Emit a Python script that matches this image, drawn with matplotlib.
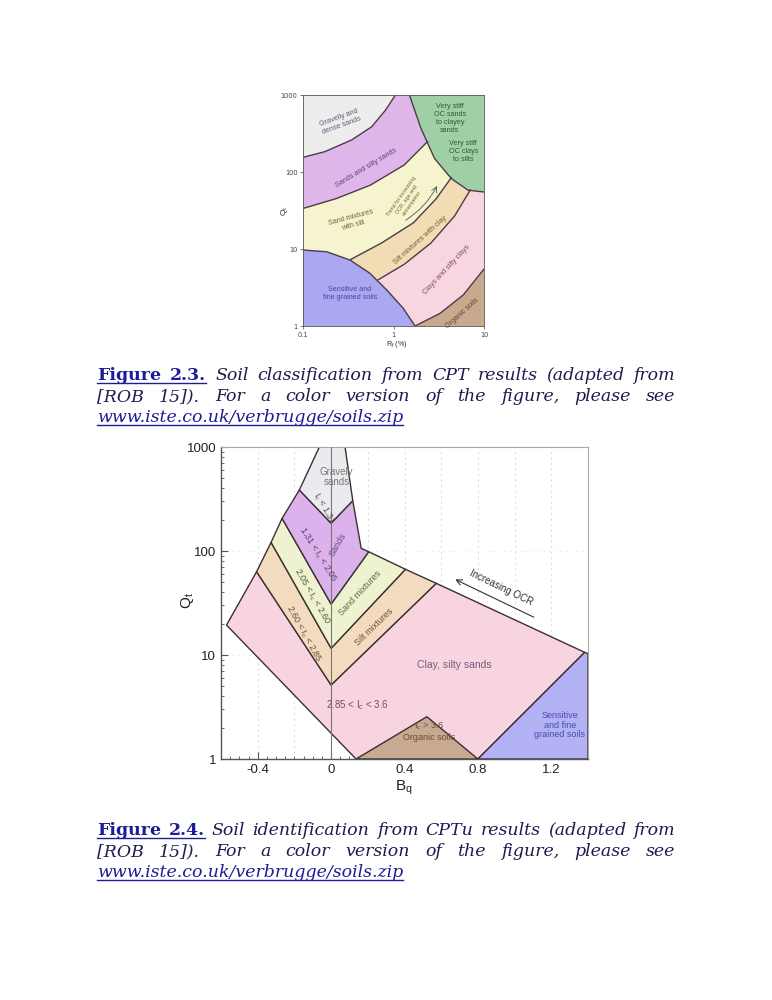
import matplotlib
matplotlib.use('Agg')
import matplotlib.pyplot as plt
from matplotlib.patches import Polygon
from matplotlib.lines import Line2D
from matplotlib.ticker import MultipleLocator, LogLocator, NullFormatter

W, H = 772, 1000

# ---- Figure 2.3 : CPT chart, boundaries read as (Rf %, Qt) ----
a_rf = [0.1, 0.175, 0.345, 0.574, 0.82, 1.05]      # gravelly / sands
a_q = [155, 184, 261, 387, 640, 1000]
b_rf = [0.1, 0.235, 0.556, 1.31, 2.39]             # sands / sand mixtures
b_q = [33.6, 45.3, 67.6, 123, 250]
c_rf = [0.331, 0.741, 1.66, 2.95, 4.37]            # sand mixtures / silt mixtures
c_q = [7.24, 12.0, 21.9, 44.7, 85.1]
d_rf = [0.676, 1.31, 2.60, 4.74, 7.08]             # silt mixtures / clays
d_q = [3.98, 6.31, 12.0, 26.9, 58.9]
g_rf = [1.5, 2.01, 2.84, 4.36, 6.68, 10]           # very stiff OC zone
g_q = [1000, 369, 150, 82, 58, 55]
s_rf = [0.1, 0.183, 0.330, 0.550, 0.841, 1.28, 1.73]  # sensitive zone
s_q = [9.7, 9.2, 7.2, 4.83, 2.94, 1.70, 1.0]
e_rf = [1.73, 3.27, 5.90, 10]                      # clays / organic
e_q = [1.0, 1.46, 2.53, 5.5]

# ---- Figure 2.4 : CPTu chart, zones as (Bq, Qt) polygons ----
grav_bq = [-0.064, 0.076, 0.118, 0.0, -0.173]
grav_q = [1000, 1000, 305, 185, 386]
sand_bq = [-0.173, 0.0, 0.118, 0.164, 0.205, 0.0, -0.267]
sand_q = [386, 185, 305, 106, 98.4, 30.9, 206]
smix_bq = [-0.267, 0.0, 0.205, 0.405, 0.0, -0.327]
smix_q = [206, 30.9, 98.4, 66.7, 11.6, 121]
silt_bq = [-0.327, 0.0, 0.405, 0.573, 0.0, -0.406]
silt_q = [121, 11.6, 66.7, 48.9, 5.15, 63.2]
clay_bq = [-0.406, 0.0, 0.573, 1.382, 0.8, 0.136, -0.570]
clay_q = [63.2, 5.15, 48.9, 10.6, 1.0, 1.0, 19.4]
sens_bq = [0.8, 1.382, 1.4, 1.4]
sens_q = [1.0, 10.6, 10.3, 1.0]
org_bq = [0.136, 0.522, 0.8]
org_q = [1.0, 2.55, 1.0]


def fx(x):
    return x / W


def fy(y):
    return 1 - y / H


fig = plt.figure(figsize=(W / 100, H / 100), dpi=100)
fig.patch.set_facecolor('white')

# ================= top chart =================
ax1 = fig.add_axes([fx(303), fy(326), 181 / W, 231 / H])
ax1.set_xscale('log')
ax1.set_yscale('log')
ax1.set_xlim(0.1, 10)
ax1.set_ylim(1, 1000)
ax1.set_facecolor('#f7d6e0')

ax1.fill(d_rf + [d_rf[-1], 0.1, 0.1], d_q + [1000, 1000, d_q[0]], color='#f1dcb4', lw=0)
ax1.fill(c_rf + [c_rf[-1], 0.1, 0.1], c_q + [1000, 1000, c_q[0]], color='#f5f4cf', lw=0)
ax1.fill(b_rf + [b_rf[-1], 0.1], b_q + [1000, 1000], color='#dfb6ea', lw=0)
ax1.fill(a_rf + [0.1], a_q + [1000], color='#ededee', lw=0)
ax1.fill(g_rf + [10], g_q + [1000], color='#9fd0a5', lw=0)
ax1.fill(s_rf + [0.1], s_q + [1], color='#aaa8f0', lw=0)
ax1.fill(e_rf + [10], e_q + [1], color='#c9a98e', lw=0)

for xs, ys in [(a_rf, a_q), (b_rf, b_q), (c_rf, c_q), (d_rf, d_q),
               (g_rf, g_q), (s_rf, s_q), (e_rf, e_q)]:
    ax1.plot(xs, ys, color='#4b3c4b', lw=1.0, solid_capstyle='round')

tk = dict(fontsize=5.2, ha='center', va='center', family='Liberation Sans')
ax1.text(0.256, 450, 'Gravelly and\ndense sands', rotation=20, color='#6a5a7a', **tk)
ax1.text(0.506, 112, 'Sands and silty sands', rotation=31, color='#6a3d8a', **tk)
ax1.text(4.2, 498, 'Very stiff\nOC sands\nto clayey\nsands', color='#2f5a38', **tk)
ax1.text(5.9, 184, 'Very stiff\nOC clays\nto silts', color='#2f5a38', **tk)
ax1.text(0.345, 22.6, 'Sand mixtures\nwith silt', rotation=15, color='#6a6a3a', **tk)
ax1.text(1.40, 43.3, 'Trend for increasing\nOCR, age and\ncementation', rotation=55,
         color='#6a6a3a', fontsize=3.8, ha='center', va='center', family='Liberation Sans')
ax1.annotate('', xy=(3.13, 71), xytext=(1.28, 22.6),
             arrowprops=dict(arrowstyle='->', color='#555555', lw=0.6,
                             connectionstyle='arc3,rad=0.15'))
ax1.text(1.96, 13.1, 'Silt mixtures with clay', rotation=42, color='#7a5a3a', **tk)
ax1.text(3.87, 5.33, 'Clays and silty clays', rotation=47, color='#8a4a6a', **tk)
ax1.text(0.33, 2.66, 'Sensitive and\nfine grained soils', color='#4a48a8', **tk)
ax1.text(5.68, 1.46, 'Organic soils', rotation=42, color='#6a4030', **tk)

ax1.set_xticks([0.1, 1, 10])
ax1.set_xticklabels(['0.1', '1', '10'])
ax1.set_yticks([1, 10, 100, 1000])
ax1.set_yticklabels(['1', '10', '100', '1000'])
ax1.minorticks_off()
ax1.tick_params(labelsize=4.8, length=2.5, width=0.5, colors='#444444', pad=1.5)
for sp in ax1.spines.values():
    sp.set_linewidth(0.6)
    sp.set_color('#555555')
fig.text(fx(285), fy(211), r'$\mathregular{Q_t}$', rotation=90, fontsize=6, ha='center',
         va='center', color='#333333', family='Liberation Sans')
fig.text(fx(397), fy(344), r'$\mathregular{R_f}$ (%)', fontsize=5.2, ha='center', va='center',
         color='#333333', family='Liberation Sans')

# ================= bottom chart =================
ax2 = fig.add_axes([fx(221), fy(759), 367 / W, 312 / H])
ax2.set_yscale('log')
ax2.set_xlim(-0.6, 1.4)
ax2.set_ylim(1, 1000)
ax2.set_facecolor('white')

for gx in [-0.4, -0.2, 0.2, 0.4, 0.6, 0.8, 1.0, 1.2]:
    ax2.axvline(gx, color='#dedede', ls=(0, (2, 3)), lw=0.8, zorder=0)
for gy in [10, 100]:
    ax2.axhline(gy, color='#e6e6e6', ls=(0, (1, 4)), lw=0.8, zorder=0)

edge = '#3b3030'
zones = [(clay_bq, clay_q, '#f7d4df'), (silt_bq, silt_q, '#f2dbbf'),
         (smix_bq, smix_q, '#eef2d0'), (sand_bq, sand_q, '#dcb2ec'),
         (grav_bq, grav_q, '#ebebef'), (sens_bq, sens_q, '#b2b2f4'),
         (org_bq, org_q, '#c8aa92')]
for xs, ys, col in zones:
    ax2.add_patch(Polygon(list(zip(xs, ys)), closed=True, fc=col, ec=edge, lw=1.0,
                          joinstyle='miter', zorder=2))
ax2.axvline(0, color='#777777', lw=0.8, zorder=3)

sk = dict(ha='center', va='center', family='Liberation Sans', zorder=5)
ic = r'$\mathregular{I_c}$'
ax2.text(0.03, 515, 'Gravely\nsands', fontsize=7, color='#777777', linespacing=1.0, **sk)
ax2.text(-0.04, 258, ic + ' < 1.31', rotation=-60, fontsize=6.5, color='#555555', **sk)
ax2.text(-0.075, 91.5, '1.31 < ' + ic + ' < 2.05', rotation=-58, fontsize=6.5, color='#5a3a6a', **sk)
ax2.text(0.035, 114, 'Sands', rotation=60, fontsize=6.5, color='#6a4a8a', **sk)
ax2.text(-0.105, 36.4, '2.05 < ' + ic + ' < 2.60', rotation=-60, fontsize=6.5, color='#4a5a3a', **sk)
ax2.text(0.155, 39.5, 'Sand mixtures', rotation=47, fontsize=6.5, color='#5a6a3a', **sk)
ax2.text(-0.151, 15.9, '2.60 < ' + ic + ' < 2.85', rotation=-61, fontsize=6.5, color='#6a4a3a', **sk)
ax2.text(0.236, 18.6, 'Silt mixtures', rotation=44, fontsize=6.5, color='#7a4a3a', **sk)
ax2.text(0.145, 3.3, '2.85 < ' + ic + ' < 3.6', fontsize=7, color='#7a4a6a', **sk)
ax2.text(0.673, 8.0, 'Clay, silty sands', fontsize=7.5, color='#7a5a7a', **sk)
ax2.text(0.536, 1.86, ic + ' > 3.6\nOrganic soils', fontsize=6.5, color='#6a4a30',
         linespacing=1.1, **sk)
ax2.text(1.246, 2.12, 'Sensitive\nand fine\ngrained soils', fontsize=6.5, color='#4a4ab0',
         linespacing=1.1, **sk)
ax2.text(0.929, 44.1, 'Increasing OCR', rotation=-26, fontsize=7, color='#333333', **sk)
ax2.annotate('', xy=(0.663, 54.7), xytext=(1.118, 22.5),
             arrowprops=dict(arrowstyle='->', color='#333333', lw=0.8), zorder=5)

ax2.set_xticks([-0.4, 0, 0.4, 0.8, 1.2])
ax2.set_xticklabels(['-0.4', '0', '0.4', '0.8', '1.2'])
ax2.set_yticks([1, 10, 100, 1000])
ax2.set_yticklabels(['1', '10', '100', '1000'])
ax2.yaxis.set_minor_locator(LogLocator(base=10, subs=range(2, 10)))
ax2.yaxis.set_minor_formatter(NullFormatter())
ax2.xaxis.set_minor_locator(MultipleLocator(0.05))
ax2.tick_params(which='both', direction='in', colors='#555555', labelcolor='#222222',
                labelsize=9.5, top=False, right=False)
ax2.tick_params(which='major', length=5, width=0.8)
ax2.tick_params(which='minor', length=2.5, width=0.6)
for s in ['left', 'bottom']:
    ax2.spines[s].set_color('#555555')
    ax2.spines[s].set_linewidth(1.0)
for s in ['top', 'right']:
    ax2.spines[s].set_color('#aaaaaa')
    ax2.spines[s].set_linewidth(0.8)
for lab in ax2.get_xticklabels() + ax2.get_yticklabels():
    lab.set_family('Liberation Sans')
fig.text(fx(188), fy(601), r'$\mathregular{Q_t}$', rotation=90, fontsize=11, ha='center',
         va='center', color='#222222', family='Liberation Sans')
fig.text(fx(404), fy(788), r'$\mathregular{B_q}$', fontsize=11, ha='center', va='center',
         color='#222222', family='Liberation Sans')

# ================= captions =================
renderer = fig.canvas.get_renderer()
bold = dict(family='DejaVu Serif', weight='bold', size=12.5, color='#1d1d96')
ital = dict(family='DejaVu Serif', style='italic', size=12.5, color='#1c1c50')
link = dict(family='DejaVu Serif', style='italic', size=12.5, color='#1d1d96')


def caption_line(ybase, words, x0=97, x1=675, justify=True, underline=()):
    objs = [fig.text(0, fy(ybase), w, va='baseline', ha='left', **st) for w, st in words]
    widths = [o.get_window_extent(renderer).width for o in objs]
    if justify and len(objs) > 1:
        gap = (x1 - x0 - sum(widths)) / (len(objs) - 1)
    else:
        gap = 4
    x = x0
    pos = []
    for o, wd in zip(objs, widths):
        o.set_x(fx(x))
        pos.append((x, x + wd))
        x += wd + gap
    if underline:
        ux0 = pos[underline[0]][0]
        ux1 = pos[underline[-1]][1]
        col = words[underline[0]][1]['color']
        fig.add_artist(Line2D([fx(ux0), fx(ux1)], [fy(ybase + 2.5)] * 2, color=col, lw=1.0,
                              transform=fig.transFigure))


def caption(ytop, num, desc):
    first = [('Figure', bold), (num, bold)] + [(w, ital) for w in desc.split()]
    caption_line(ytop, first, underline=(0, 1))
    second = '[ROB 15]). For a color version of the figure, please see'
    caption_line(ytop + 21, [(w, ital) for w in second.split()])
    caption_line(ytop + 42, [('www.iste.co.uk/verbrugge/soils.zip', link)], justify=False,
                 underline=(0,))


caption(380, '2.3.', 'Soil classification from CPT results (adapted from')
caption(835, '2.4.', 'Soil identification from CPTu results (adapted from')

fig.savefig('out.png', dpi=100)
